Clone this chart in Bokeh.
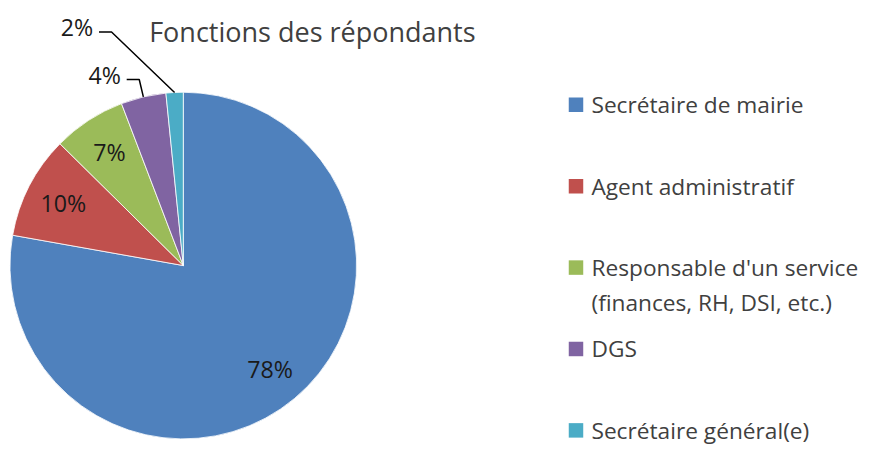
import numpy as np
from bokeh.plotting import figure
from bokeh.models import ColumnDataSource, Range1d
from bokeh.core.properties import value
from bokeh.embed import file_html
from bokeh.resources import INLINE

# ---- data ----
title = "Fonctions des répondants"
categories = ["Secrétaire de mairie", "Agent administratif",
              "Responsable d'un service\n(finances, RH, DSI, etc.)", "DGS",
              "Secrétaire général(e)"]
percentages = [77.8, 9.6, 6.8, 4.2, 1.6]
colors = ["#4F81BD", "#C0504D", "#9BBB59", "#8064A2", "#4BACC6"]

# ---- layout: design coordinates (894x465 canvas) scaled uniformly to fit ----
W, H = 878, 449
S = H / 465.0


def X(v):
    return v * S


def Y(v):
    return H - v * S


cx, cy, R = X(189.3), Y(274.5), 179.5 * S
label_r = [140 * S, 140 * S, 140 * S, 198 * S, 253 * S]  # inside radius / elbow radius
label_shift = [0, 0, 0, 0, 14.2]                         # degrees, collision avoidance
outside = [False, False, False, True, True]
FONT = value("Open Sans")

p = figure(width=W, height=H, x_range=Range1d(0, W), y_range=Range1d(0, H),
           output_backend="svg", toolbar_location=None, min_border=0,
           x_axis_type=None, y_axis_type=None)
p.outline_line_color = None
p.grid.visible = False
p.background_fill_color = "white"
p.border_fill_color = "white"

frac = np.array(percentages) / sum(percentages)
cum_end = np.cumsum(frac) * 2 * np.pi
cum_start = cum_end - frac * 2 * np.pi
start = np.pi / 2 - cum_end
end = np.pi / 2 - cum_start
mid = (start + end) / 2

src = ColumnDataSource(dict(start=start, end=end, color=colors))
p.wedge(x=cx, y=cy, radius=R, start_angle="start", end_angle="end",
        direction="anticlock", fill_color="color", line_color="white",
        line_width=0.8, source=src)

labels = [f"{round(v)}%" for v in percentages]
in_x, in_y, in_t = [], [], []
out_x, out_y, out_t = [], [], []
lx, ly = [], []
for i, lab in enumerate(labels):
    if not outside[i]:
        in_x.append(cx + label_r[i] * np.cos(mid[i]))
        in_y.append(cy + label_r[i] * np.sin(mid[i]))
        in_t.append(lab)
    else:
        ex0 = cx + R * np.cos(mid[i])
        ey0 = cy + R * np.sin(mid[i])
        a = mid[i] + np.deg2rad(label_shift[i])
        ex = cx + label_r[i] * np.cos(a)
        ey = cy + label_r[i] * np.sin(a)
        lx.append([ex0, ex, ex - 13 * S])
        ly.append([ey0, ey, ey])
        out_x.append(ex - 19 * S)
        out_y.append(ey + 5 * S)
        out_t.append(lab)

lab_size = f"{24 * S:.1f}px"
p.multi_line(xs=lx, ys=ly, line_color="black", line_width=1.5)
p.text(x=in_x, y=in_y, text=in_t, text_align="center", text_baseline="middle",
       text_font=FONT, text_font_size=lab_size, text_color="#1a1a1a")
p.text(x=out_x, y=out_y, text=out_t, text_align="right", text_baseline="middle",
       text_font=FONT, text_font_size=lab_size, text_color="#1a1a1a")

# title
p.text(x=[X(323)], y=[Y(32)], text=[title], text_align="center", text_baseline="middle",
       text_font=FONT, text_font_size=f"{28 * S:.1f}px", text_color="#404040")

# legend
row0, row_step, line_step = 108.0, 84.3, 36.0
sq_x, sq_y, tx, ty, tt = [], [], [], [], []
for i, cat in enumerate(categories):
    yy = row0 + i * row_step
    sq_x.append(X(596))
    sq_y.append(Y(yy))
    for j, line in enumerate(cat.split("\n")):
        tx.append(X(612))
        ty.append(Y(yy + j * line_step))
        tt.append(line)
p.rect(x=sq_x, y=sq_y, width=15 * S, height=15 * S, fill_color=colors, line_color=None)
p.text(x=tx, y=ty, text=tt, text_align="left", text_baseline="middle",
       text_font=FONT, text_font_size=f"{23.5 * S:.1f}px", text_color="#404040")

open("out.html", "w").write(file_html(p, INLINE))
